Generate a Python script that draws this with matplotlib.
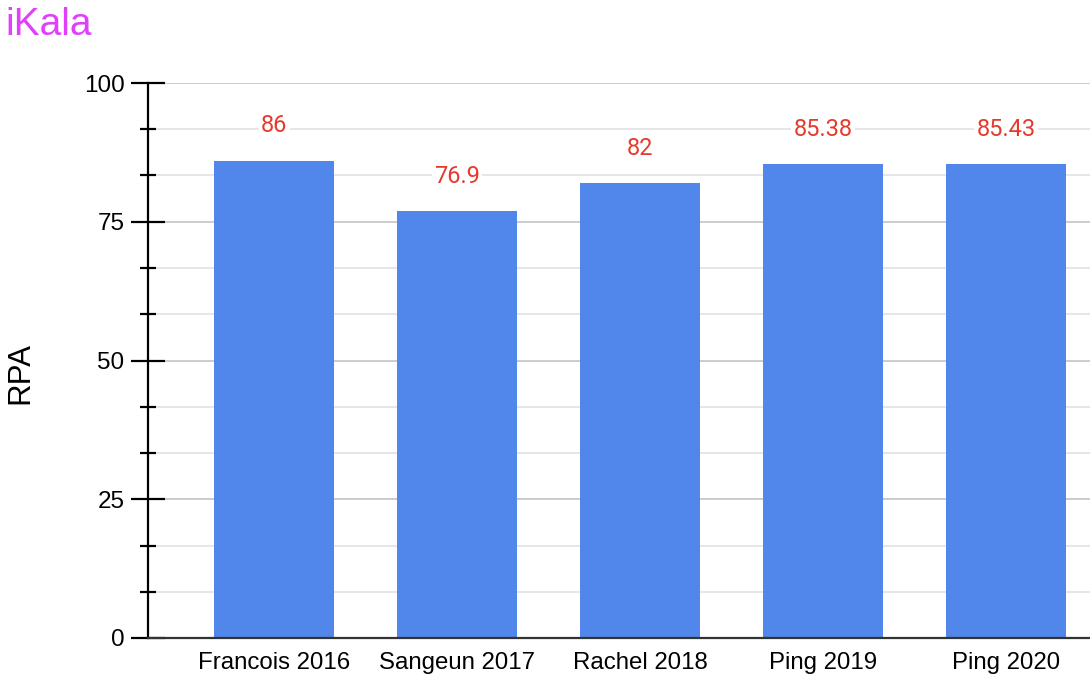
import matplotlib
matplotlib.use("Agg")
import matplotlib.pyplot as plt
import numpy as np

models = ["Francois 2016", "Sangeun 2017", "Rachel 2018", "Ping 2019", "Ping 2020"]
rpa = [86, 76.9, 82, 85.38, 85.43]
value_labels = ["86", "76.9", "82", "85.38", "85.43"]
y_major = [0, 25, 50, 75, 100]

plt.rcParams['font.family'] = ['Liberation Sans', 'DejaVu Sans']

fig = plt.figure(figsize=(10.9, 6.88), dpi=100)
ax = fig.add_axes([148 / 1090, 50 / 688, 1 - 148 / 1090, 555 / 688])

x = np.arange(len(models))
ax.bar(x, rpa, width=0.655, color='#5186ea', zorder=3)

for xi, v, lab in zip(x, rpa, value_labels):
    ax.annotate(lab, (xi, v), xytext=(0, 25), textcoords='offset points',
                ha='center', va='center', fontsize=17, color='#e53a2c',
                family='Roboto', zorder=4,
                bbox=dict(boxstyle='square,pad=0.1', fc='white', ec='none'))

ax.set_xlim(-0.69, 4.46)
ax.set_ylim(0, 100)
ax.set_yticks(y_major)
ax.set_yticks(np.arange(0, 100, 25 / 3), minor=True)
ax.set_xticks(x)
ax.set_xticklabels(models)

ax.grid(axis='y', which='major', color='#c8c8c8', linewidth=1.3, zorder=0)
ax.grid(axis='y', which='minor', color='#e4e4e4', linewidth=1.3, zorder=0)
ax.set_axisbelow(True)

for s in ['top', 'right']:
    ax.spines[s].set_visible(False)
ax.spines['left'].set_linewidth(1.6)
ax.spines['left'].set_color('black')
ax.spines['bottom'].set_color('#333333')
ax.spines['bottom'].set_linewidth(1.6)
ax.spines['bottom'].set_zorder(5)

ax.tick_params(axis='y', which='major', direction='inout', length=24, width=1.6,
               labelsize=17.5, pad=5)
ax.tick_params(axis='y', which='minor', direction='inout', length=11, width=1.6)
ax.tick_params(axis='x', length=0, labelsize=17.3, pad=10)

fig.text(20 / 1090, 1 - 373 / 688, "RPA", rotation=90, fontsize=22.5,
         ha='center', va='center')
fig.text(5 / 1090, 1 - 25 / 688, "iKala", fontsize=28, color='#e040fb',
         ha='left', va='center')

fig.savefig("out.png", dpi=100, facecolor='white')
